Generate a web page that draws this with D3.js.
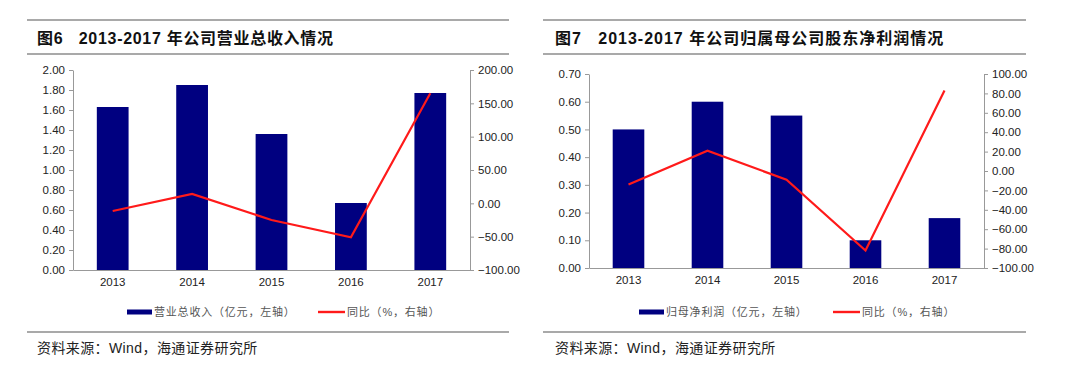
<!DOCTYPE html>
<html lang="zh">
<head>
<meta charset="UTF-8">
<title>营业总收入与归母净利润</title>
<script src="https://d3js.org/d3.v7.min.js"></script>
<style>
  body { margin: 0; background: #fff; }
  text { font-family: "Liberation Sans", Arial, "Noto Sans CJK SC", sans-serif; }
</style>
</head>
<body>
<script>
// data
var years = ['2013', '2014', '2015', '2016', '2017'];
var revenue = [1.63, 1.85, 1.36, 0.67, 1.77];       // 亿元
var revenueYoy = [-11.5, 14, -25, -51, 165];        // %
var netProfit = [0.50, 0.60, 0.55, 0.10, 0.18];     // 亿元
var netProfitYoy = [-14, 21, -9, -82, 83];          // %

var leftTicks1 = [0, 0.2, 0.4, 0.6, 0.8, 1.0, 1.2, 1.4, 1.6, 1.8, 2.0];
var rightTicks1 = [-100, -50, 0, 50, 100, 150, 200];
var leftTicks2 = [0, 0.1, 0.2, 0.3, 0.4, 0.5, 0.6, 0.7];
var rightTicks2 = [-100, -80, -60, -40, -20, 0, 20, 40, 60, 80, 100];

var svg = d3.select('body').append('svg')
    .attr('width', 1080)
    .attr('height', 368);

function panel(o) {
    var g = svg.append('g');

    // frame lines
    [20, 54, 332].forEach(function(y) {
        g.append('line')
            .attr('x1', o.frameX0).attr('x2', o.frameX1)
            .attr('y1', y).attr('y2', y)
            .attr('stroke', '#8c8c8c').attr('stroke-width', 1.5);
    });

    g.append('text')
        .attr('x', o.titleX).attr('y', 44)
        .attr('font-size', 16).attr('font-weight', 'bold').attr('fill', '#111')
        .attr('letter-spacing', o.titleSpacing)
        .text(o.title);

    g.append('text')
        .attr('x', o.titleX).attr('y', 353)
        .attr('font-size', 14).attr('fill', '#222').attr('letter-spacing', 0.4)
        .text('资料来源：Wind，海通证券研究所');

    var x = d3.scaleBand().domain(years).range([o.x0, o.x1]).paddingInner(0.6).paddingOuter(0.3);
    var yL = d3.scaleLinear().domain(o.leftDomain).range([o.yBottom, o.yTop]);
    var yR = d3.scaleLinear().domain(o.rightDomain).range([o.yBottom, o.yTop]);

    // bars
    g.selectAll('rect.bar').data(o.bars).enter().append('rect')
        .attr('class', 'bar')
        .attr('x', function(d, i) { return x(years[i]); })
        .attr('width', x.bandwidth())
        .attr('y', function(d) { return yL(d); })
        .attr('height', function(d) { return yL(0) - yL(d); })
        .attr('fill', '#000080');

    // axes
    var axL = d3.axisLeft(yL).tickValues(o.leftTicks).tickFormat(d3.format('.2f')).tickSize(4).tickSizeOuter(0);
    var axR = d3.axisRight(yR).tickValues(o.rightTicks).tickFormat(d3.format('.2f')).tickSize(4).tickSizeOuter(0);
    var axB = d3.axisBottom(x).tickSize(0).tickPadding(8);

    var gl = g.append('g').attr('transform', 'translate(' + o.x0 + ',0)').call(axL);
    var gr = g.append('g').attr('transform', 'translate(' + o.x1 + ',0)').call(axR);
    var gb = g.append('g').attr('transform', 'translate(0,' + o.yBottom + ')').call(axB);

    [gl, gr, gb].forEach(function(a) {
        a.selectAll('path, line').attr('stroke', '#999');
        a.selectAll('text').attr('font-size', 11.5).attr('fill', '#222')
            .attr('font-family', '"Liberation Sans", Arial, sans-serif');
    });
    gl.selectAll('text').attr('x', -8);
    gr.selectAll('text').attr('x', 8);

    // yoy line
    var line = d3.line()
        .x(function(d, i) { return x(years[i]) + x.bandwidth() / 2; })
        .y(function(d) { return yR(d); });
    g.append('path').datum(o.line)
        .attr('d', line)
        .attr('fill', 'none')
        .attr('stroke', '#ff1a1a')
        .attr('stroke-width', 2.2);

    // legend
    var ly = 312;
    g.append('rect').attr('x', o.leg1).attr('y', ly - 2.5).attr('width', 25).attr('height', 5).attr('fill', '#000080');
    g.append('text').attr('x', o.leg1 + 27).attr('y', ly + 4)
        .attr('font-size', 11).attr('fill', '#555').attr('letter-spacing', 0.8)
        .text(o.barLabel);
    g.append('rect').attr('x', o.leg2).attr('y', ly - 1.2).attr('width', 27).attr('height', 2.4).attr('fill', '#ff1a1a');
    g.append('text').attr('x', o.leg2 + 29).attr('y', ly + 4)
        .attr('font-size', 11).attr('fill', '#555').attr('letter-spacing', 0.8)
        .text('同比（%，右轴）');
}

panel({
    frameX0: 27, frameX1: 509, titleX: 37, titleSpacing: 0.7,
    title: '图6\u00a0\u00a0 2013-2017 年公司营业总收入情况',
    x0: 73, x1: 470, yTop: 70, yBottom: 270,
    leftDomain: [0, 2], rightDomain: [-100, 200],
    leftTicks: leftTicks1, rightTicks: rightTicks1,
    bars: revenue, line: revenueYoy,
    barLabel: '营业总收入（亿元，左轴）',
    leg1: 127, leg2: 318
});

panel({
    frameX0: 543, frameX1: 1026, titleX: 555, titleSpacing: 1,
    title: '图7\u00a0\u00a0 2013-2017 年公司归属母公司股东净利润情况',
    x0: 589, x1: 984, yTop: 74, yBottom: 268,
    leftDomain: [0, 0.7], rightDomain: [-100, 100],
    leftTicks: leftTicks2, rightTicks: rightTicks2,
    bars: netProfit, line: netProfitYoy,
    barLabel: '归母净利润（亿元，左轴）',
    leg1: 639, leg2: 833
});
</script>
</body>
</html>
